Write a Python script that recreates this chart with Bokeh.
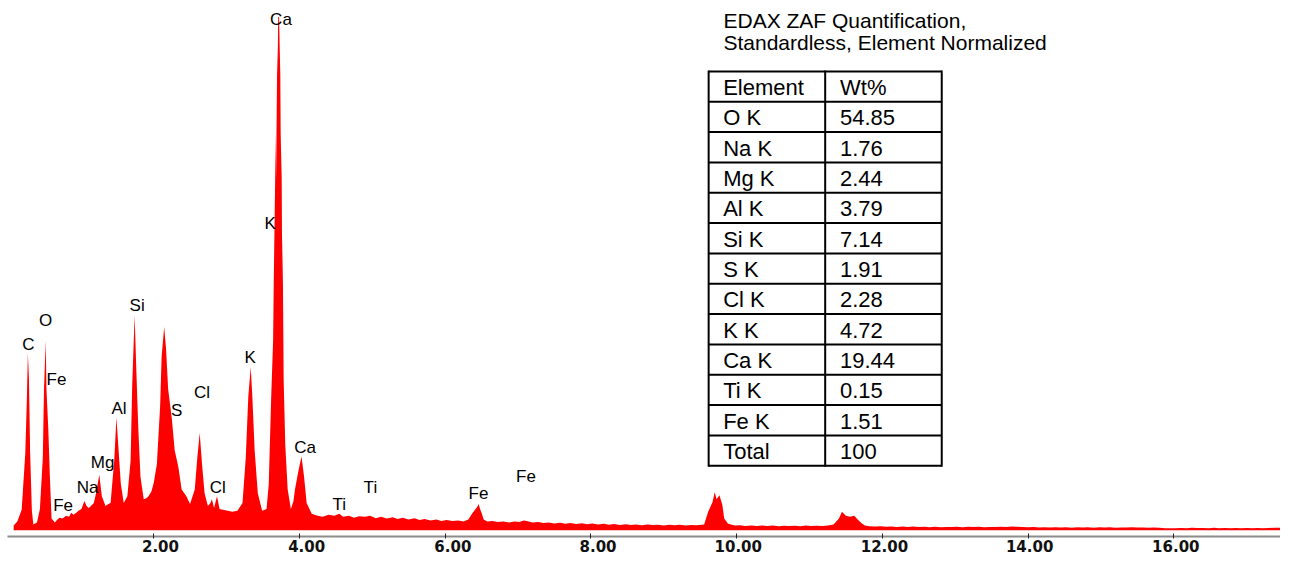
from bokeh.plotting import figure
from bokeh.models import Range1d, FixedTicker, LinearAxis
from bokeh.embed import file_html
from bokeh.resources import INLINE
from bokeh.core.properties import value

# ---------------- data ----------------
energy_kev = [
    0.08, 0.13, 0.19, 0.24, 0.26, 0.275, 0.29, 0.306, 0.33, 0.35,
    0.40, 0.44, 0.48, 0.496, 0.52, 0.53, 0.555, 0.577, 0.60, 0.645,
    0.68, 0.71, 0.75, 0.80, 0.84, 0.87, 0.90, 0.94, 0.97, 1.01,
    1.05, 1.08, 1.11, 1.14, 1.18, 1.21, 1.255, 1.29, 1.34, 1.38,
    1.41, 1.46, 1.49, 1.515, 1.55, 1.59, 1.64, 1.685, 1.706, 1.74,
    1.76, 1.79, 1.82, 1.865, 1.90, 1.93, 1.97, 2.00, 2.045, 2.09,
    2.11, 2.145, 2.17, 2.20, 2.25, 2.29, 2.34, 2.385, 2.45, 2.50,
    2.565, 2.60, 2.633, 2.665, 2.70, 2.745, 2.78, 2.80, 2.83, 2.87,
    2.905, 2.95, 3.02, 3.08, 3.15, 3.22, 3.265, 3.30, 3.333, 3.355,
    3.387, 3.43, 3.49, 3.55, 3.58, 3.613, 3.64, 3.649, 3.658, 3.677,
    3.681, 3.694, 3.705, 3.710, 3.722, 3.731, 3.739, 3.744, 3.758, 3.762,
    3.775, 3.785, 3.807, 3.84, 3.884, 3.92, 3.94, 3.99, 4.03, 4.065,
    4.10, 4.17, 4.25, 4.32, 4.40, 4.48, 4.55, 4.60, 4.68, 4.75,
    4.82, 4.90, 4.97, 5.05, 5.12, 5.20, 5.28, 5.35, 5.42, 5.50,
    5.58, 5.65, 5.72, 5.80, 5.88, 5.95, 6.02, 6.10, 6.18, 6.25,
    6.32, 6.36, 6.40, 6.44, 6.46, 6.48, 6.50, 6.53, 6.58, 6.65,
    6.72, 6.80, 6.88, 6.95, 7.02, 7.08, 7.12, 7.20, 7.28, 7.35,
    7.42, 7.50, 7.58, 7.65, 7.72, 7.80, 7.88, 7.95, 8.02, 8.10,
    8.18, 8.25, 8.32, 8.40, 8.48, 8.55, 8.62, 8.70, 8.78, 8.85,
    8.92, 9.00, 9.08, 9.15, 9.22, 9.30, 9.38, 9.45, 9.52, 9.555,
    9.61, 9.67, 9.70, 9.725, 9.765, 9.805, 9.83, 9.88, 9.92, 9.98,
    10.05, 10.12, 10.20, 10.28, 10.35, 10.42, 10.50, 10.58, 10.65, 10.72,
    10.80, 10.88, 10.95, 11.02, 11.10, 11.18, 11.25, 11.33, 11.405, 11.445,
    11.50, 11.555, 11.615, 11.675, 11.72, 11.76, 11.82, 11.90, 11.98, 12.05,
    12.12, 12.20, 12.28, 12.35, 12.42, 12.50, 12.58, 12.65, 12.72, 12.80,
    12.88, 12.95, 13.02, 13.10, 13.18, 13.25, 13.32, 13.40, 13.48, 13.55,
    13.62, 13.70, 13.78, 13.85, 13.92, 14.00, 14.08, 14.15, 14.22, 14.30,
    14.38, 14.45, 14.52, 14.60, 14.68, 14.75, 14.82, 14.90, 14.98, 15.05,
    15.12, 15.20, 15.28, 15.35, 15.42, 15.50, 15.58, 15.65, 15.72, 15.80,
    15.88, 15.95, 16.02, 16.10, 16.18, 16.25, 16.32, 16.40, 16.48, 16.55,
    16.62, 16.70, 16.78, 16.85, 16.92, 17.00, 17.08, 17.15, 17.22, 17.30,
    17.38, 17.46,
]
counts = [
    50, 90, 210, 800, 1320, 1820, 1550, 800, 200, 60,
    80, 220, 750, 1450, 1950, 1450, 1050, 550, 120, 80,
    110, 130, 120, 150, 140, 180, 160, 180, 200, 220,
    300, 250, 230, 250, 280, 380, 570, 350, 250, 270,
    280, 720, 1160, 880, 480, 280, 350, 720, 1480, 2210,
    1720, 1050, 550, 320, 330, 350, 400, 480, 680, 1280,
    1780, 2090, 1880, 1450, 1150, 820, 650, 420, 350, 270,
    420, 750, 1000, 680, 380, 250, 280, 320, 230, 350,
    220, 210, 200, 190, 200, 280, 750, 1380, 1680, 1380,
    820, 380, 200, 220, 470, 1350, 1950, 2550, 3050, 4080,
    3620, 4680, 4950, 5280, 5280, 4950, 4680, 4080, 3620, 3050,
    2550, 1550, 880, 420, 220, 300, 420, 620, 760, 550,
    280, 170, 150, 140, 160, 150, 170, 140, 150, 130,
    145, 140, 150, 125, 140, 120, 135, 115, 130, 110,
    125, 105, 115, 100, 110, 95, 105, 95, 100, 90,
    110, 160, 200, 240, 270, 220, 180, 110, 90, 95,
    85, 90, 80, 90, 85, 100, 95, 80, 85, 75,
    80, 70, 78, 68, 75, 65, 72, 62, 70, 60,
    68, 58, 65, 55, 62, 55, 60, 52, 60, 55,
    58, 50, 58, 52, 56, 50, 55, 52, 58, 60,
    190, 290, 390, 320, 360, 260, 120, 70, 60, 48,
    52, 45, 50, 44, 50, 45, 48, 42, 47, 43,
    46, 42, 48, 43, 46, 44, 50, 60, 120, 190,
    150, 140, 150, 100, 70, 50, 42, 38, 42, 36,
    40, 35, 38, 34, 38, 33, 36, 32, 37, 30,
    35, 33, 36, 32, 36, 33, 36, 32, 35, 34,
    36, 35, 40, 36, 33, 30, 33, 29, 32, 28,
    31, 28, 30, 27, 31, 28, 30, 27, 30, 28,
    30, 27, 29, 28, 30, 28, 29, 26, 28, 25,
    22, 20, 22, 24, 22, 25, 23, 24, 22, 25,
    22, 24, 21, 23, 21, 24, 22, 23, 21, 24,
    27, 25,
]

peak_labels = ["C", "O", "Fe", "Fe", "Na", "Mg", "Al", "Si", "S", "Cl",
               "Cl", "K", "K", "Ca", "Ca", "Ti", "Ti", "Fe", "Fe"]
peak_label_kev = [0.283, 0.519, 0.668, 0.758, 1.096, 1.300, 1.526, 1.774, 2.316, 2.664,
                  2.881, 3.324, 3.599, 3.748, 4.078, 4.548, 4.975, 6.459, 7.110]
peak_label_counts = [1910, 2157, 1550, 257, 443, 700, 1250, 2317, 1233, 1417,
                     443, 1777, 3155, 5255, 850, 265, 445, 375, 550]

tick_values = [2, 4, 6, 8, 10, 12, 14, 16]
tick_labels = ["2.00", "4.00", "6.00", "8.00", "10.00", "12.00", "14.00", "16.00"]

title_lines = ["EDAX ZAF Quantification,", "Standardless, Element Normalized"]
table_header = ["Element", "Wt%"]
elements = ["O K", "Na K", "Mg K", "Al K", "Si K", "S K", "Cl K", "K K", "Ca K", "Ti K", "Fe K"]
wt_percent = [54.85, 1.76, 2.44, 3.79, 7.14, 1.91, 2.28, 4.72, 19.44, 0.15, 1.51]
total_row = ["Total", "100"]

# ---------------- layout (pixel positions of the original picture) ----------------
W, H = 1280, 557
REF_W, REF_H = 1296, 573
PX_PER_KEV = (1188.0 - 155.0) / 14.0
KEV0_PX = 155.0 - 2 * PX_PER_KEV
BASE_REF = 545.0          # spectrum base line (ref px)
CNT_PER_PX = 10.0


def cnt(ref_y):
    return (BASE_REF - ref_y) * CNT_PER_PX


x0 = (0 - KEV0_PX) / PX_PER_KEV
x1 = (REF_W - KEV0_PX) / PX_PER_KEV

p = figure(width=W, height=H, output_backend="svg", toolbar_location=None,
           x_range=Range1d(x0, x1), y_range=Range1d(cnt(REF_H), cnt(0)),
           y_axis_location=None, x_axis_location="below",
           min_border_left=0, min_border_right=0, min_border_top=0, min_border_bottom=0,
           outline_line_color=None, background_fill_color="white",
           border_fill_color="white")
p.grid.visible = False
p.extra_x_ranges = {"px": Range1d(0, REF_W)}
p.extra_y_ranges = {"py": Range1d(REF_H, 0)}

# spectrum
p.varea(x=energy_kev, y1=0, y2=counts, fill_color="#ff0000", fill_alpha=1.0)

# peak labels
p.text(x=peak_label_kev, y=peak_label_counts, text=peak_labels,
       text_align="center", text_baseline="middle",
       text_font=value("Liberation Sans"), text_font_size="17px", text_color="black")

# x axis: line and ticks (placed at the axis line position of the original)
ax = p.xaxis[0]
ax.fixed_location = cnt(551.7)
ax.ticker = FixedTicker(ticks=tick_values)
ax.bounds = (0, x1)
ax.axis_line_color = "#8c8c8c"
ax.axis_line_width = 2
ax.major_tick_line_color = "#222222"
ax.major_tick_in = 3
ax.major_tick_out = 2
ax.minor_tick_line_color = None
ax.major_label_text_font_size = "1px"
ax.major_label_text_color = None
ax.major_label_standoff = 0

# tick labels: right-aligned a little right of each tick, as in the original software
label_px = [int(round(KEV0_PX + t * PX_PER_KEV + 27 - (len(s) * 11 - 5) / 2))
            for t, s in zip(tick_values, tick_labels)]
lab_axis = LinearAxis(x_range_name="px", ticker=FixedTicker(ticks=label_px),
                      major_label_overrides={k: s for k, s in zip(label_px, tick_labels)},
                      fixed_location=cnt(554.5),
                      axis_line_color=None, major_tick_line_color=None,
                      minor_tick_line_color=None, major_tick_in=0, major_tick_out=0,
                      major_label_standoff=0,
                      major_label_text_font="DejaVu Sans",
                      major_label_text_font_style="bold",
                      major_label_text_font_size="15px",
                      major_label_text_color="#111111")
p.add_layout(lab_axis, "below")

# title text
p.text(x=[732, 732], y=[20.5, 43.5], text=title_lines, x_range_name="px", y_range_name="py",
       text_align="left", text_baseline="alphabetic",
       text_font=value("Liberation Sans"), text_font_size="21px", text_color="black")

# table
T_LEFT, T_MID, T_RIGHT, T_TOP, ROW_H = 717.0, 835.0, 953.0, 73.0, 31.2
col1 = [table_header[0]] + elements + [total_row[0]]
col2 = [table_header[1]] + [f"{v:.2f}" for v in wt_percent] + [total_row[1]]
n_rows = len(col1)
T_BOTTOM = T_TOP + n_rows * ROW_H
hy = [T_TOP + i * ROW_H for i in range(n_rows + 1)]
p.segment(x0=[T_LEFT] * len(hy), x1=[T_RIGHT] * len(hy), y0=hy, y1=hy,
          x_range_name="px", y_range_name="py", line_color="black", line_width=2)
vx = [T_LEFT, T_MID, T_RIGHT]
p.segment(x0=vx, x1=vx, y0=[T_TOP - 1] * 3, y1=[T_BOTTOM + 1] * 3,
          x_range_name="px", y_range_name="py", line_color="black", line_width=2)
row_c = [T_TOP + (i + 0.5) * ROW_H + 0.8 for i in range(n_rows)]
p.text(x=[T_LEFT + 14.7] * n_rows, y=row_c, text=col1, x_range_name="px", y_range_name="py",
       text_align="left", text_baseline="middle",
       text_font=value("Liberation Sans"), text_font_size="22px", text_color="black")
p.text(x=[T_MID + 15] * n_rows, y=row_c, text=col2, x_range_name="px", y_range_name="py",
       text_align="left", text_baseline="middle",
       text_font=value("Liberation Sans"), text_font_size="22px", text_color="black")

open("out.html", "w").write(file_html(p, INLINE))
